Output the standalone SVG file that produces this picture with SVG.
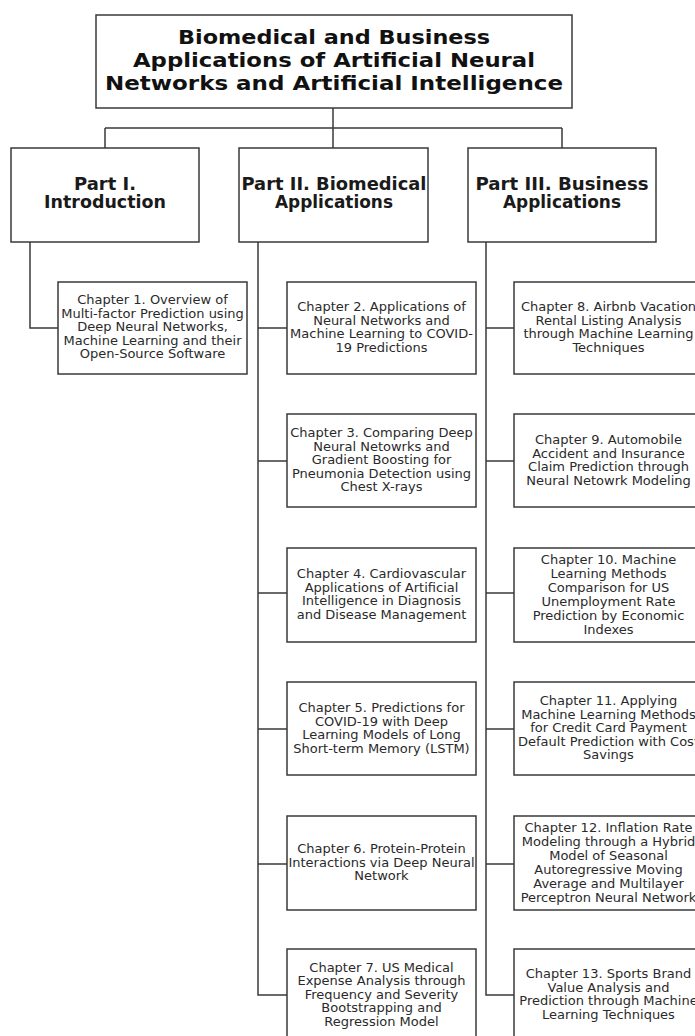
<svg xmlns="http://www.w3.org/2000/svg" width="695" height="1036" viewBox="0 0 695 1036">
<style>
.box{fill:#fff;stroke:#3a3a3a;stroke-width:1.5}
.conn{fill:none;stroke:#3a3a3a;stroke-width:1.5}
.title{font-family:"DejaVu Sans",Verdana,sans-serif;font-weight:bold;font-size:20px;fill:#111;text-anchor:middle}
.part{font-family:"DejaVu Sans",Tahoma,sans-serif;font-weight:bold;font-size:17px;fill:#1a1a1a;text-anchor:middle}
.ch{font-family:"DejaVu Sans",Verdana,sans-serif;font-size:13px;fill:#2a2a2a;text-anchor:middle}
</style>
<rect width="695" height="1036" fill="#fff"/>
<g id="connectors">
<path class="conn" d="M333,108V128M105,128H562M105,128V148M333,128V148M562,128V148"/>
<path class="conn" d="M30,242V328H58"/>
<path class="conn" d="M258,242V995H287M258,328H287M258,461H287M258,593H287M258,729H287M258,864H287"/>
<path class="conn" d="M486,242V995H514M486,328H514M486,461H514M486,593H514M486,729H514M486,864H514"/>
</g>
<g id="title">
<rect class="box" x="96" y="15" width="476" height="93"/>
<text class="title" x="334" y="44" textLength="312" lengthAdjust="spacingAndGlyphs">Biomedical and Business</text>
<text class="title" x="334" y="67" textLength="402" lengthAdjust="spacingAndGlyphs">Applications of Artificial Neural</text>
<text class="title" x="334" y="90" textLength="458" lengthAdjust="spacingAndGlyphs">Networks and Artificial Intelligence</text>
</g>
<g id="part1">
<rect class="box" x="11" y="148" width="188" height="94"/>
<text class="part" x="105" y="190" textLength="62" lengthAdjust="spacingAndGlyphs">Part I.</text>
<text class="part" x="105" y="208" textLength="122" lengthAdjust="spacingAndGlyphs">Introduction</text>
</g>
<g id="part2">
<rect class="box" x="239" y="148" width="189" height="94"/>
<text class="part" x="334" y="190" textLength="185" lengthAdjust="spacingAndGlyphs">Part II. Biomedical</text>
<text class="part" x="334" y="208" textLength="118" lengthAdjust="spacingAndGlyphs">Applications</text>
</g>
<g id="part3">
<rect class="box" x="468" y="148" width="188" height="94"/>
<text class="part" x="562" y="190" textLength="173" lengthAdjust="spacingAndGlyphs">Part III. Business</text>
<text class="part" x="562" y="208" textLength="118" lengthAdjust="spacingAndGlyphs">Applications</text>
</g>
<g id="ch1">
<rect class="box" x="58" y="282" width="189" height="92"/>
<text class="ch" x="152.5" y="304">Chapter 1. Overview of</text>
<text class="ch" x="152.5" y="317.5">Multi-factor Prediction using</text>
<text class="ch" x="152.5" y="331">Deep Neural Networks,</text>
<text class="ch" x="152.5" y="344.5">Machine Learning and their</text>
<text class="ch" x="152.5" y="358">Open-Source Software</text>
</g>
<g id="ch2">
<rect class="box" x="287" y="282" width="189" height="92"/>
<text class="ch" x="381.5" y="311">Chapter 2. Applications of</text>
<text class="ch" x="381.5" y="324.5">Neural Networks and</text>
<text class="ch" x="381.5" y="338">Machine Learning to COVID-</text>
<text class="ch" x="381.5" y="351.5">19 Predictions</text>
</g>
<g id="ch3">
<rect class="box" x="287" y="414" width="189" height="93"/>
<text class="ch" x="381.5" y="437">Chapter 3. Comparing Deep</text>
<text class="ch" x="381.5" y="450.5">Neural Netowrks and</text>
<text class="ch" x="381.5" y="464">Gradient Boosting for</text>
<text class="ch" x="381.5" y="477.5">Pneumonia Detection using</text>
<text class="ch" x="381.5" y="491">Chest X-rays</text>
</g>
<g id="ch4">
<rect class="box" x="287" y="548" width="189" height="94"/>
<text class="ch" x="381.5" y="578">Chapter 4. Cardiovascular</text>
<text class="ch" x="381.5" y="591.5">Applications of Artificial</text>
<text class="ch" x="381.5" y="605">Intelligence in Diagnosis</text>
<text class="ch" x="381.5" y="618.5">and Disease Management</text>
</g>
<g id="ch5">
<rect class="box" x="287" y="682" width="189" height="93"/>
<text class="ch" x="381.5" y="712">Chapter 5. Predictions for</text>
<text class="ch" x="381.5" y="725.5">COVID-19 with Deep</text>
<text class="ch" x="381.5" y="739">Learning Models of Long</text>
<text class="ch" x="381.5" y="752.5">Short-term Memory (LSTM)</text>
</g>
<g id="ch6">
<rect class="box" x="287" y="816" width="189" height="94"/>
<text class="ch" x="381.5" y="853">Chapter 6. Protein-Protein</text>
<text class="ch" x="381.5" y="866.5">Interactions via Deep Neural</text>
<text class="ch" x="381.5" y="880">Network</text>
</g>
<g id="ch7">
<rect class="box" x="287" y="949" width="189" height="94"/>
<text class="ch" x="381.5" y="971.5">Chapter 7. US Medical</text>
<text class="ch" x="381.5" y="985">Expense Analysis through</text>
<text class="ch" x="381.5" y="998.5">Frequency and Severity</text>
<text class="ch" x="381.5" y="1012">Bootstrapping and</text>
<text class="ch" x="381.5" y="1025.5">Regression Model</text>
</g>
<g id="ch8">
<rect class="box" x="514" y="282" width="189" height="92"/>
<text class="ch" x="608.5" y="311">Chapter 8. Airbnb Vacation</text>
<text class="ch" x="608.5" y="324.5">Rental Listing Analysis</text>
<text class="ch" x="608.5" y="338">through Machine Learning</text>
<text class="ch" x="608.5" y="351.5">Techniques</text>
</g>
<g id="ch9">
<rect class="box" x="514" y="414" width="189" height="93"/>
<text class="ch" x="608.5" y="444">Chapter 9. Automobile</text>
<text class="ch" x="608.5" y="457.5">Accident and Insurance</text>
<text class="ch" x="608.5" y="471">Claim Prediction through</text>
<text class="ch" x="608.5" y="484.5">Neural Netowrk Modeling</text>
</g>
<g id="ch10">
<rect class="box" x="514" y="548" width="189" height="94"/>
<text class="ch" x="608.5" y="563.5">Chapter 10. Machine</text>
<text class="ch" x="608.5" y="577.5">Learning Methods</text>
<text class="ch" x="608.5" y="591.5">Comparison for US</text>
<text class="ch" x="608.5" y="605.5">Unemployment Rate</text>
<text class="ch" x="608.5" y="619.5">Prediction by Economic</text>
<text class="ch" x="608.5" y="633.5">Indexes</text>
</g>
<g id="ch11">
<rect class="box" x="514" y="682" width="189" height="93"/>
<text class="ch" x="608.5" y="705">Chapter 11. Applying</text>
<text class="ch" x="608.5" y="718.5">Machine Learning Methods</text>
<text class="ch" x="608.5" y="732">for Credit Card Payment</text>
<text class="ch" x="608.5" y="745.5">Default Prediction with Cost</text>
<text class="ch" x="608.5" y="759">Savings</text>
</g>
<g id="ch12">
<rect class="box" x="514" y="816" width="189" height="94"/>
<text class="ch" x="608.5" y="831.5">Chapter 12. Inflation Rate</text>
<text class="ch" x="608.5" y="845.5">Modeling through a Hybrid</text>
<text class="ch" x="608.5" y="859.5">Model of Seasonal</text>
<text class="ch" x="608.5" y="873.5">Autoregressive Moving</text>
<text class="ch" x="608.5" y="887.5">Average and Multilayer</text>
<text class="ch" x="608.5" y="901.5">Perceptron Neural Network</text>
</g>
<g id="ch13">
<rect class="box" x="514" y="949" width="189" height="94"/>
<text class="ch" x="608.5" y="978">Chapter 13. Sports Brand</text>
<text class="ch" x="608.5" y="991.5">Value Analysis and</text>
<text class="ch" x="608.5" y="1005">Prediction through Machine</text>
<text class="ch" x="608.5" y="1018.5">Learning Techniques</text>
</g>
</svg>
